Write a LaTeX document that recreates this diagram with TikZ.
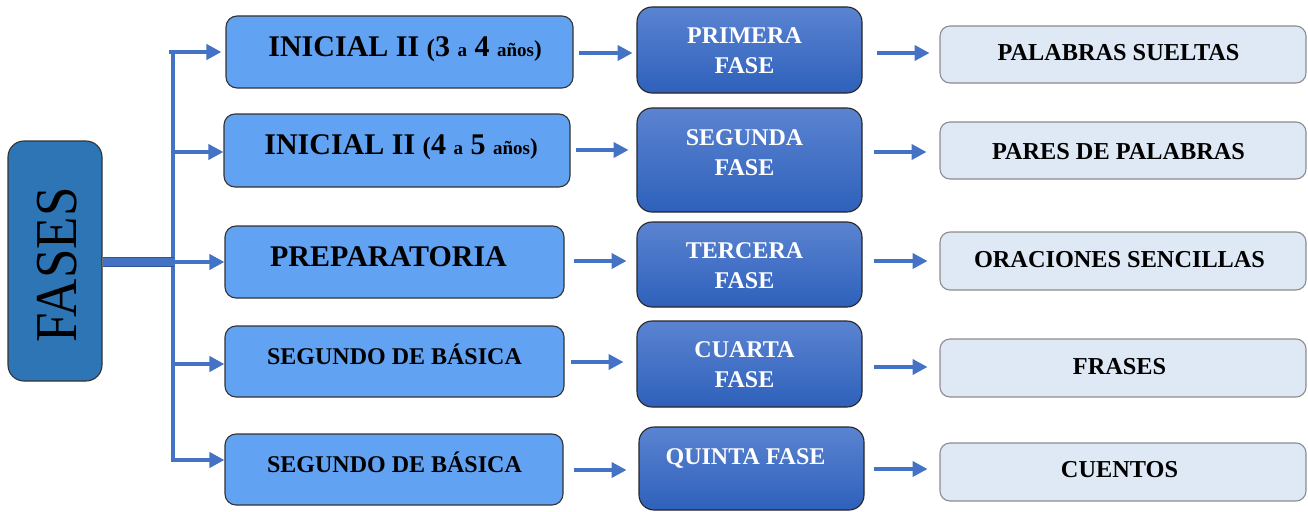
\documentclass[tikz,border=0pt]{standalone}
\usepackage{fontspec}
\setmainfont{Liberation Serif}
\usetikzlibrary{arrows.meta,calc}
\definecolor{rootfill}{HTML}{2E75B6}
\definecolor{c1fill}{HTML}{62A2F2}
\definecolor{c2top}{HTML}{5B83D1}
\definecolor{c2bot}{HTML}{2E61BB}
\definecolor{c3fill}{HTML}{DEE9F5}
\definecolor{c3line}{HTML}{8C8C8C}
\definecolor{arrc}{HTML}{4472C4}
\definecolor{bardark}{HTML}{2F5597}
\begin{document}
\begin{tikzpicture}[x=1pt,y=-1pt,
  root/.style={draw=black!80, line width=1.1pt, fill=rootfill, rounded corners=16pt, inner sep=0pt},
  lvl1/.style={draw=black!80, line width=1.1pt, fill=c1fill, rounded corners=11pt, inner sep=0pt},
  lvl2/.style={draw=black!85, line width=1.1pt, top color=c2top, bottom color=c2bot, rounded corners=15pt, inner sep=0pt},
  lvl3/.style={draw=c3line, line width=1.1pt, fill=c3fill, rounded corners=10pt, inner sep=0pt},
  t1/.style={font=\fontsize{30}{32}\selectfont\bfseries, inner sep=0pt},
  t1s/.style={font=\fontsize{24}{30}\selectfont\bfseries, inner sep=0pt},
  t2/.style={font=\fontsize{24}{30}\selectfont\bfseries, text=white, align=center, inner sep=0pt},
  t3/.style={font=\fontsize{24.3}{28}\selectfont\bfseries, inner sep=0pt},
  arr/.style={draw=arrc, line width=4pt, -{Triangle[length=15pt,width=15pt]}},
  spine/.style={draw=arrc, line width=4pt},
  bar/.style={draw=bardark, line width=1pt, double=arrc, double distance=8pt}
]
\useasboundingbox (0,0) rectangle (1308,511);

% root
\node[root, minimum width=94pt, minimum height=240pt] (fases) at (55,261) {};
\node[rotate=90, inner sep=0pt, font=\fontsize{53}{53}\selectfont] (fasest) at (57,265) {\scalebox{1}[1.12]{FASES}};

% column 1
\node[lvl1, minimum width=347pt, minimum height=72pt] (a1) at (399.5,52) {};
\node[lvl1, minimum width=346pt, minimum height=73pt] (a2) at (397,150.5) {};
\node[lvl1, minimum width=339pt, minimum height=72pt] (a3) at (394.5,262) {};
\node[lvl1, minimum width=339pt, minimum height=71pt] (a4) at (394.5,361.5) {};
\node[lvl1, minimum width=338pt, minimum height=71pt] (a5) at (394,469.5) {};

\node[t1] (a1t) at (405,49) {INICIAL II {\fontsize{25}{30}\selectfont(}3 {\fontsize{19}{30}\selectfont a} 4 {\fontsize{19}{30}\selectfont años}{\fontsize{23}{30}\selectfont)}};
\node[t1] (a2t) at (401,147) {INICIAL II {\fontsize{25}{30}\selectfont(}4 {\fontsize{19}{30}\selectfont a} 5 {\fontsize{19}{30}\selectfont años}{\fontsize{23}{30}\selectfont)}};
\node[t1] (a3t) at (388.5,257) {PREPARATORIA};
\node[t1s] (a4t) at (394.5,354) {SEGUNDO DE BÁSICA};
\node[t1s] (a5t) at (394.5,462) {SEGUNDO DE BÁSICA};

% column 2
\node[lvl2, minimum width=225pt, minimum height=86pt] (b1) at (749.5,50) {};
\node[lvl2, minimum width=225pt, minimum height=104pt] (b2) at (749.5,160) {};
\node[lvl2, minimum width=225pt, minimum height=85pt] (b3) at (749.5,264.5) {};
\node[lvl2, minimum width=225pt, minimum height=86pt] (b4) at (749.5,364) {};
\node[lvl2, minimum width=225pt, minimum height=83pt] (b5) at (751.5,468.5) {};

\node[t2] (b1t) at (744.5,51) {PRIMERA\\FASE};
\node[t2] (b2t) at (744.5,153) {SEGUNDA\\FASE};
\node[t2] (b3t) at (744.5,266) {TERCERA\\FASE};
\node[t2] (b4t) at (744.5,365) {CUARTA\\FASE};
\node[t2] (b5t) at (745.5,458) {QUINTA FASE};

% column 3
\node[lvl3, minimum width=366pt, minimum height=57pt] (c1) at (1123,54.5) {};
\node[lvl3, minimum width=366pt, minimum height=57pt] (c2) at (1123,150.5) {};
\node[lvl3, minimum width=366pt, minimum height=58pt] (c3) at (1123,261) {};
\node[lvl3, minimum width=366pt, minimum height=58pt] (c4) at (1123,368) {};
\node[lvl3, minimum width=366pt, minimum height=58pt] (c5) at (1123,472) {};

\node[t3] (c1t) at (1118.5,53) {PALABRAS SUELTAS};
\node[t3] (c2t) at (1118.5,152) {PARES DE PALABRAS};
\node[t3] (c3t) at (1119.5,260) {ORACIONES SENCILLAS};
\node[t3] (c4t) at (1119.5,367) {FRASES};
\node[t3] (c5t) at (1119.5,470) {CUENTOS};

% spine
\coordinate (s1) at (172.5,52);
\coordinate (s2) at (172.5,152);
\coordinate (s3) at (172.5,262);
\coordinate (s4) at (172.5,364);
\coordinate (s5) at (172.5,460);
\draw[spine] ([yshift=2pt]s1) -- ([yshift=-2pt]s5);
\draw[bar] (fases.east |- s3) -- ([xshift=1pt]s3);
\draw[arr] ([xshift=-4pt]s1) -- ([xshift=-4pt]s1 -| a1.west);
\draw[arr] (s2) -- (s2 -| a2.west);
\draw[arr] (s3) -- (s3 -| a3.west);
\draw[arr] (s4) -- (s4 -| a4.west);
\draw[arr] ([xshift=-2pt]s5) -- (s5 -| a5.west);

% column 1 -> column 2
\draw[arr] (a1.east |- 0,53) ++(5,0) -- ++(54,0);
\draw[arr] (a2.east |- 0,150) ++(5,0) -- ++(53,0);
\draw[arr] (a3.east |- 0,261) ++(9,0) -- ++(53,0);
\draw[arr] (a4.east |- 0,362) ++(6,0) -- ++(53,0);
\draw[arr] (a5.east |- 0,470) ++(10,0) -- ++(53,0);

% column 2 -> column 3
\draw[arr] (b1.east |- 0,53) ++(14,0) -- ++(53,0);
\draw[arr] (b2.east |- 0,152) ++(11,0) -- ++(53,0);
\draw[arr] (b3.east |- 0,261) ++(11,0) -- ++(54,0);
\draw[arr] (b4.east |- 0,367) ++(11,0) -- ++(54,0);
\draw[arr] (b5.east |- 0,469) ++(9,0) -- ++(54,0);
\end{tikzpicture}
\end{document}
